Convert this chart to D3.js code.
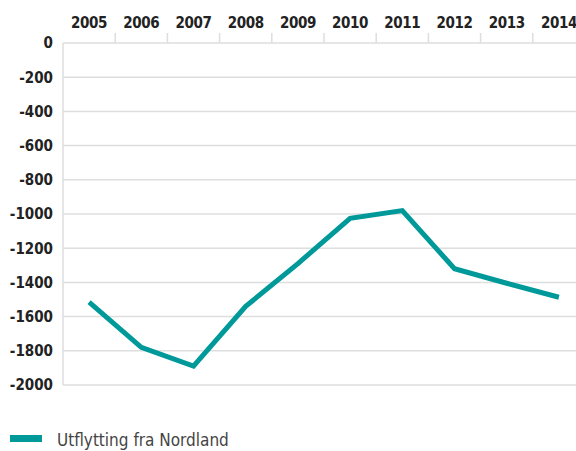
<!DOCTYPE html>
<html>
<head>
<meta charset="utf-8">
<script src="https://cdn.jsdelivr.net/npm/d3@7"></script>
<style>
  body { margin: 0; background: #fff; }
</style>
</head>
<body>
<script>
/* data */
const years = ['2005','2006','2007','2008','2009','2010','2011','2012','2013','2014'];
const values = [-1515, -1780, -1890, -1540, -1290, -1025, -980, -1320, -1405, -1487];
const yTicks = [0, -200, -400, -600, -800, -1000, -1200, -1400, -1600, -1800, -2000];
const seriesName = 'Utflytting fra Nordland';

const width = 576;
const height = 451;
const margin = { top: 43, left: 63, right: -9, bottom: 66 };
const teal = '#00999a';
const font = '"DejaVu Sans Condensed", "Liberation Sans Narrow", sans-serif';

const svg = d3.select('body').append('svg')
  .attr('width', width)
  .attr('height', height);

const x = d3.scaleBand()
  .domain(years)
  .range([margin.left, width - margin.right]);

const y = d3.scaleLinear()
  .domain([-2000, 0])
  .range([height - margin.bottom, margin.top]);

/* gridlines */
svg.append('g').selectAll('line').data(yTicks).enter().append('line')
  .attr('x1', margin.left).attr('x2', width)
  .attr('y1', d => y(d)).attr('y2', d => y(d))
  .attr('stroke', '#dedede').attr('stroke-width', 1.5);

/* left axis line */
svg.append('line')
  .attr('x1', margin.left).attr('x2', margin.left)
  .attr('y1', y(0)).attr('y2', y(-2000))
  .attr('stroke', '#dedede').attr('stroke-width', 1.5);

/* top axis */
const xAxis = svg.append('g')
  .attr('transform', `translate(0,${y(0)})`)
  .call(d3.axisTop(x).tickSize(0).tickPadding(15));
xAxis.select('.domain').remove();
xAxis.selectAll('text')
  .attr('font-family', font).attr('font-weight', 'bold')
  .attr('font-size', 15).attr('letter-spacing', -0.4).attr('fill', '#222');
/* band dividers */
svg.append('g').selectAll('line').data(years.slice(1)).enter().append('line')
  .attr('x1', d => x(d)).attr('x2', d => x(d))
  .attr('y1', y(0) - 10).attr('y2', y(0))
  .attr('stroke', '#dedede').attr('stroke-width', 1.5);

/* left axis labels */
const yAxis = svg.append('g')
  .attr('transform', `translate(${margin.left},0)`)
  .call(d3.axisLeft(y).tickValues(yTicks).tickFormat(d => String(d))
    .tickSize(0).tickPadding(10));
yAxis.select('.domain').remove();
yAxis.selectAll('text')
  .attr('font-family', font).attr('font-weight', 'bold')
  .attr('font-size', 15).attr('fill', '#222');

/* line */
const line = d3.line()
  .x((d, i) => x(years[i]) + x.bandwidth() / 2)
  .y(d => y(d));

svg.append('path').datum(values)
  .attr('fill', 'none')
  .attr('stroke', teal)
  .attr('stroke-width', 5)
  .attr('stroke-linejoin', 'miter')
  .attr('d', line);

/* legend */
svg.append('rect')
  .attr('x', 10).attr('y', 435).attr('width', 32).attr('height', 7)
  .attr('fill', teal);
svg.append('text')
  .attr('x', 57).attr('y', 446)
  .attr('font-family', font).attr('font-size', 17).attr('fill', '#444')
  .text(seriesName);
</script>
</body>
</html>
